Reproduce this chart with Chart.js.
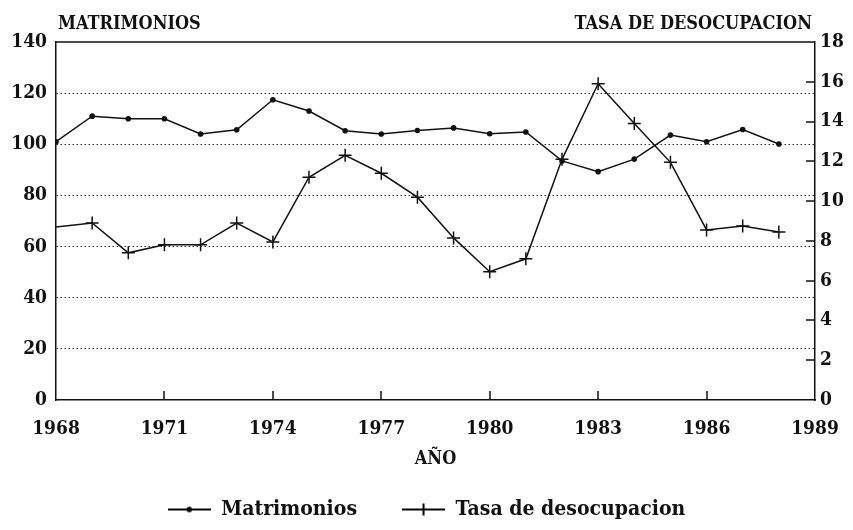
<!DOCTYPE html>
<html>
<head>
<meta charset="utf-8">
<title>Matrimonios y tasa de desocupacion</title>
<script src="https://cdn.jsdelivr.net/npm/chart.js@4/dist/chart.umd.min.js"></script>
<style>
  html, body { margin: 0; padding: 0; background: #fff; }
  #wrap { width: 853px; height: 530px; }
</style>
</head>
<body>
<div id="wrap"><canvas id="chart" width="853" height="530"></canvas></div>
<script>
// --- data ---
const years = [1968, 1969, 1970, 1971, 1972, 1973, 1974, 1975, 1976, 1977, 1978,
               1979, 1980, 1981, 1982, 1983, 1984, 1985, 1986, 1987, 1988];
const matrimonios = [101, 111, 110, 110, 104, 105.7, 117.4, 113, 105.3, 104, 105.4,
                     106.4, 104.1, 104.8, 93.5, 89.3, 94.2, 103.6, 101, 105.8, 100.1];
const tasaDesocupacion = [8.7, 8.9, 7.4, 7.8, 7.8, 8.9, 7.95, 11.2, 12.3, 11.4, 10.2,
                          8.15, 6.45, 7.1, 12.1, 15.9, 13.9, 11.95, 8.55, 8.75, 8.45];
const seriesLabels = ['Matrimonios', 'Tasa de desocupacion'];
const leftTitle = 'MATRIMONIOS';
const rightTitle = 'TASA DE DESOCUPACION';
const xTitle = 'AÑO';

const FONT = "'DejaVu Serif Condensed', 'DejaVu Serif', serif";
const INK = '#111';

// --- legend swatches: line with the series marker ---
const makeSwatch = (marker) => {
    const c = document.createElement('canvas');
    c.width = 43; c.height = 14;
    const g = c.getContext('2d');
    g.strokeStyle = '#000'; g.fillStyle = '#000'; g.lineWidth = 2;
    g.beginPath(); g.moveTo(0, 7); g.lineTo(43, 7); g.stroke();
    if (marker === 'dot') {
        g.beginPath(); g.arc(21.5, 7, 2.8, 0, Math.PI * 2); g.fill();
    } else {
        g.beginPath(); g.moveTo(21.5, 1); g.lineTo(21.5, 13); g.stroke();
    }
    return c;
};
const swatches = [makeSwatch('dot'), makeSwatch('cross')];

// --- decorations: inward tick marks, top frame line, axis headings ---
const framePlugin = {
    id: 'frame',
    beforeDatasetsDraw(chart) {
        const { ctx, chartArea, scales } = chart;
        ctx.save();
        ctx.strokeStyle = INK;
        ctx.lineWidth = 1.5;
        ctx.beginPath();
        scales.x.ticks.forEach(t => {
            if (t.value <= scales.x.min || t.value >= scales.x.max) return;
            const px = Math.round(scales.x.getPixelForValue(t.value));
            ctx.moveTo(px, chartArea.bottom);
            ctx.lineTo(px, chartArea.bottom - 9);
        });
        scales.y1.ticks.forEach(t => {
            if (t.value <= scales.y1.min || t.value >= scales.y1.max) return;
            const py = Math.round(scales.y1.getPixelForValue(t.value));
            ctx.moveTo(chartArea.right, py);
            ctx.lineTo(chartArea.right - 9, py);
        });
        // top frame
        ctx.moveTo(chartArea.left, chartArea.top);
        ctx.lineTo(chartArea.right, chartArea.top);
        ctx.stroke();
        ctx.restore();
    },
    afterDraw(chart) {
        const { ctx, chartArea } = chart;
        ctx.save();
        ctx.fillStyle = INK;
        ctx.font = `bold 18px ${FONT}`;
        ctx.textBaseline = 'middle';
        ctx.textAlign = 'left';
        ctx.fillText(leftTitle, chartArea.left + 2, 24);
        ctx.textAlign = 'right';
        ctx.fillText(rightTitle, chartArea.right - 3, 24);
        ctx.restore();
    }
};

const ctx = document.getElementById('chart').getContext('2d');
new Chart(ctx, {
    type: 'line',
    data: {
        datasets: [
            {
                label: seriesLabels[0],
                data: years.map((yr, i) => ({ x: yr, y: matrimonios[i] })),
                yAxisID: 'y',
                borderColor: INK,
                backgroundColor: INK,
                borderWidth: 1.5,
                pointStyle: 'circle',
                pointRadius: 2.8,
                pointBorderWidth: 0,
                tension: 0
            },
            {
                label: seriesLabels[1],
                data: years.map((yr, i) => ({ x: yr, y: tasaDesocupacion[i] })),
                yAxisID: 'y1',
                borderColor: INK,
                backgroundColor: INK,
                borderWidth: 1.5,
                pointStyle: 'cross',
                pointRadius: (c) => c.dataIndex === 0 ? 0 : 6.5,
                pointBorderWidth: 1.5,
                tension: 0
            }
        ]
    },
    options: {
        responsive: false,
        animation: false,
        layout: { padding: { top: 42, left: 0, right: 0, bottom: 0 } },
        plugins: {
            tooltip: { enabled: false },
            legend: {
                position: 'bottom',
                labels: {
                    usePointStyle: true,
                    pointStyleWidth: 43,
                    padding: 45,
                    color: INK,
                    font: { family: FONT, size: 21, weight: 'bold' },
                    generateLabels: (chart) => chart.data.datasets.map((ds, i) => ({
                        text: ds.label,
                        pointStyle: swatches[i],
                        fillStyle: INK,
                        strokeStyle: INK,
                        lineWidth: 0,
                        fontColor: INK,
                        datasetIndex: i
                    }))
                }
            }
        },
        scales: {
            x: {
                type: 'linear',
                min: 1968,
                max: 1989,
                afterFit: (s) => {
                    s.height = s.chart.height - 400 - (s.chart.legend ? s.chart.legend.height : 0);
                    s.paddingLeft = 0;
                    s.paddingRight = 0;
                },
                ticks: {
                    stepSize: 3,
                    padding: 18,
                    color: INK,
                    font: { family: FONT, size: 19, weight: 'bold' },
                    callback: (v) => String(v),
                    maxRotation: 0
                },
                grid: { drawOnChartArea: false, drawTicks: false },
                border: { display: true, color: INK, width: 1.5 },
                title: {
                    display: true,
                    text: xTitle,
                    color: INK,
                    font: { family: FONT, size: 18, weight: 'bold' },
                    padding: { top: 0, bottom: -16 }
                }
            },
            y: {
                position: 'left',
                min: 0,
                max: 140,
                afterFit: (s) => { s.width = 56; },
                ticks: {
                    stepSize: 20,
                    padding: 9,
                    color: INK,
                    font: { family: FONT, size: 19, weight: 'bold' }
                },
                grid: {
                    drawTicks: false,
                    lineWidth: 1,
                    color: (c) => (c.tick.value === 0 || c.tick.value === 140) ? 'rgba(0,0,0,0)' : '#333'
                },
                border: { display: true, color: INK, width: 1.5, dash: [1.5, 2.5] }
            },
            y1: {
                position: 'right',
                min: 0,
                max: 18,
                afterFit: (s) => { s.width = 38; },
                ticks: {
                    stepSize: 2,
                    padding: 5,
                    color: INK,
                    font: { family: FONT, size: 19, weight: 'bold' }
                },
                grid: { drawOnChartArea: false, drawTicks: false },
                border: { display: true, color: INK, width: 1.5 }
            }
        }
    },
    plugins: [framePlugin]
});
</script>
</body>
</html>
